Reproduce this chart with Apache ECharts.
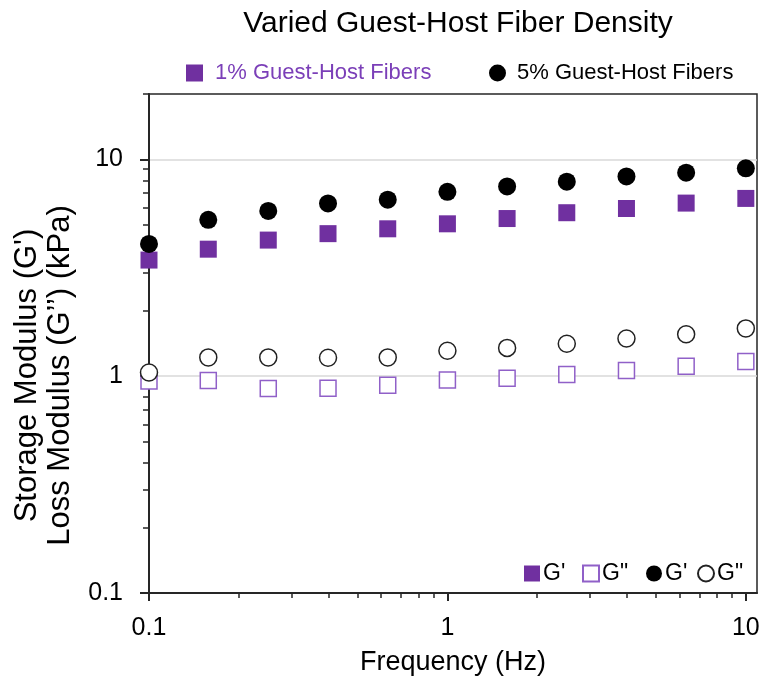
<!DOCTYPE html>
<html>
<head>
<meta charset="utf-8">
<script src="https://cdn.jsdelivr.net/npm/echarts@6/dist/echarts.min.js"></script>
<style>html,body{margin:0;padding:0;background:#fff;}#c{width:766px;height:681px;}</style>
</head>
<body>
<div id="c"></div>
<script>
// Data
const frequency = [0.1, 0.158, 0.251, 0.398, 0.631, 1, 1.585, 2.512, 3.981, 6.31, 10];
const storage1 = [3.43, 3.85, 4.24, 4.54, 4.78, 5.04, 5.33, 5.67, 5.93, 6.28, 6.60];
const loss1 = [0.95, 0.955, 0.877, 0.88, 0.909, 0.961, 0.979, 1.018, 1.062, 1.112, 1.169];
const storage5 = [4.07, 5.26, 5.78, 6.26, 6.51, 7.08, 7.50, 7.88, 8.34, 8.67, 9.08];
const loss5 = [1.04, 1.22, 1.22, 1.216, 1.22, 1.31, 1.35, 1.41, 1.49, 1.56, 1.66];

const seriesNames = ["1% G'", '1% G"', "5% G'", '5% G"'];
const groupLabels = ['1% Guest-Host Fibers', '5% Guest-Host Fibers'];
const xMajorTicks = [0.1, 1, 10];
const xMinorTicks = [0.2,0.3,0.4,0.5,0.6,0.7,0.8,0.9,2,3,4,5,6,7,8,9];
const yMajorTicks = [0.1, 1, 10];
const yMinorTicks = [0.2,0.3,0.4,0.5,0.6,0.7,0.8,0.9,2,3,4,5,6,7,8,9,20];

const FONT = 'Liberation Sans, Arial, sans-serif';
const PURPLE = '#7030a0';
const PURPLE_LIGHT = '#9060c8';

function pairs(ys){ return frequency.map((f,i)=>[f, ys[i]]); }
function fmt(v){ return String(+(+v).toPrecision(3)); }

const chart = echarts.init(document.getElementById('c'), null, {renderer:'canvas'});

const axisLineStyle = {color:'#262626', width:2};
const smallLegend = (name, left) => ({
  data:[name], left: left, top: 562, padding: 0, itemWidth: 16, itemHeight: 16,
  formatter: n=>n.split(' ')[1],
  textStyle:{fontFamily: FONT, fontSize: 23, color:'#000', padding:[0,0,0,-2]}, selectedMode:false
});

const option = {
  animation: false,
  textStyle: {fontFamily: FONT},
  title: {
    text: 'Varied Guest-Host Fiber Density',
    left: 453, textAlign: 'center', top: 4,
    textStyle: {fontFamily: FONT, fontSize: 30, fontWeight: 'normal', color: '#000'}
  },
  grid: {left: 149, right: 9, top: 94, bottom: 88, show: true, borderColor: '#262626', borderWidth: 1.5, backgroundColor: 'transparent'},
  legend: [
    {data:[{name: seriesNames[0], textStyle:{color:'#7b3fb8'}}], left: 186, top: 62, padding: 0, itemWidth: 17, itemHeight: 17,
     formatter: ()=>groupLabels[0], textStyle:{fontFamily: FONT, fontSize: 22, padding:[0,0,0,7]}, selectedMode:false},
    {data:[{name: seriesNames[2], textStyle:{color:'#000'}}], left: 489, top: 62, padding: 0, itemWidth: 17, itemHeight: 17,
     formatter: ()=>groupLabels[1], textStyle:{fontFamily: FONT, fontSize: 22, padding:[0,0,0,6]}, selectedMode:false},
    smallLegend(seriesNames[0], 524),
    smallLegend(seriesNames[1], 582),
    smallLegend(seriesNames[2], 646),
    smallLegend(seriesNames[3], 697)
  ],
  xAxis: [
    {type:'log', logBase:10, min:0.1, max:10.9, position:'bottom',
     name:'Frequency (Hz)', nameLocation:'middle', nameGap:56,
     nameTextStyle:{fontFamily: FONT, fontSize:27, color:'#000'},
     axisLine:{show:true, lineStyle:axisLineStyle},
     axisTick:{show:true, customValues:xMajorTicks, length:8, lineStyle:{color:'#262626', width:2}},
     axisLabel:{customValues:xMajorTicks, formatter:fmt, fontFamily: FONT, fontSize:25, color:'#000', margin:23},
     splitLine:{show:false}},
    {type:'log', logBase:10, min:0.1, max:10.9, position:'bottom',
     axisLine:{show:false},
     axisTick:{show:true, customValues:xMinorTicks, length:5, lineStyle:{color:'#262626', width:1.5}},
     axisLabel:{show:false}, splitLine:{show:false}}
  ],
  yAxis: [
    {type:'log', logBase:10, min:0.1, max:20, position:'left',
     name:"Storage Modulus (G')\nLoss Modulus (G\u2019\u2019) (kPa)", nameLocation:'middle', nameRotate:90, nameGap:66,
     nameTextStyle:{fontFamily: FONT, fontSize:31, lineHeight:33, color:'#000', align:'center', padding:[0,64,0,0]},
     axisLine:{show:true, lineStyle:axisLineStyle},
     axisTick:{show:true, customValues:yMajorTicks, length:9, lineStyle:{color:'#262626', width:2}},
     axisLabel:{customValues:yMajorTicks, formatter:fmt, fontFamily: FONT, fontSize:25, color:'#000', margin:26},
     splitLine:{show:true, lineStyle:{color:'#d9d9d9', width:1.5}}},
    {type:'log', logBase:10, min:0.1, max:20, position:'left',
     axisLine:{show:false},
     axisTick:{show:true, customValues:yMinorTicks, length:6, lineStyle:{color:'#262626', width:1.5}},
     axisLabel:{show:false}, splitLine:{show:false}}
  ],
  series: [
    {name: seriesNames[0], type:'scatter', symbol:'rect', symbolSize:17, data: pairs(storage1),
     itemStyle:{color:PURPLE, opacity:1}},
    {name: seriesNames[1], type:'scatter', symbol:'rect', symbolSize:16, data: pairs(loss1),
     itemStyle:{color:'#fff', borderColor:PURPLE_LIGHT, borderWidth:1.5, opacity:1}},
    {name: seriesNames[2], type:'scatter', symbol:'circle', symbolSize:18, data: pairs(storage5),
     itemStyle:{color:'#000', opacity:1}},
    {name: seriesNames[3], type:'scatter', symbol:'circle', symbolSize:17, data: pairs(loss5),
     itemStyle:{color:'#fff', borderColor:'#222', borderWidth:1.5, opacity:1}}
  ]
};
chart.setOption(option);
</script>
</body>
</html>
